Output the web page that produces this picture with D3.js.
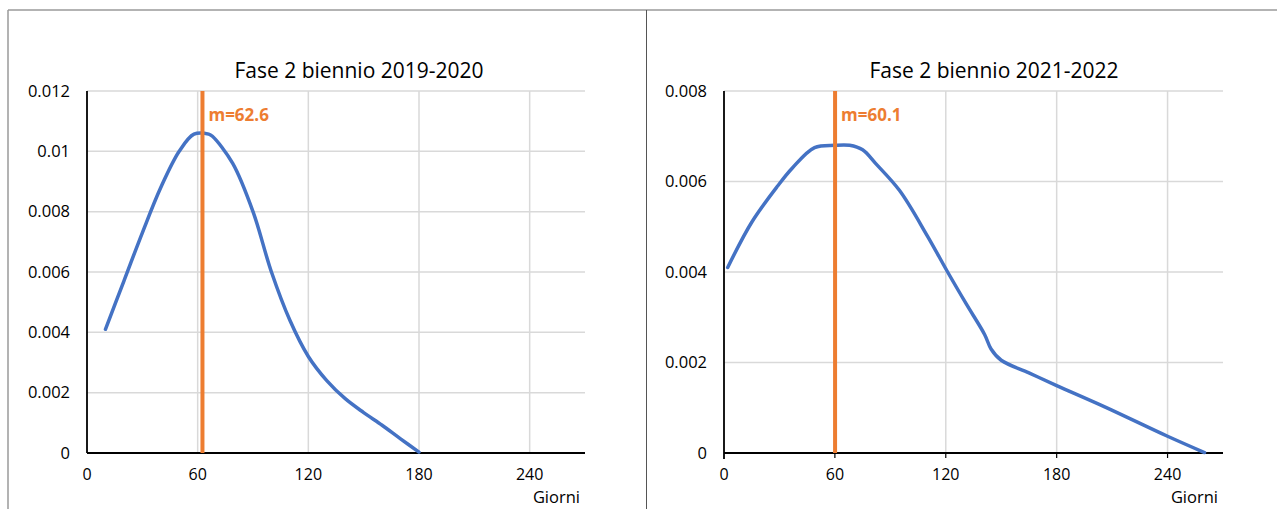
<!DOCTYPE html>
<html>
<head>
<meta charset="utf-8">
<script src="https://cdn.jsdelivr.net/npm/d3@7/dist/d3.min.js"></script>
<style>
html,body{margin:0;padding:0;background:#fff;}
svg{display:block;font-family:"Open Sans",sans-serif;}
</style>
</head>
<body>
<svg id="c" width="1277" height="509"></svg>
<script>
// ---- data ----
const titles = ["Fase 2 biennio 2019-2020", "Fase 2 biennio 2021-2022"];
const xTicks = [0, 60, 120, 180, 240];
const yTicksLeft = [0, 0.002, 0.004, 0.006, 0.008, 0.01, 0.012];
const yTicksRight = [0, 0.002, 0.004, 0.006, 0.008];
const yLabelsLeft = ["0", "0.002", "0.004", "0.006", "0.008", "0.01", "0.012"];
const yLabelsRight = ["0", "0.002", "0.004", "0.006", "0.008"];
const daysLeft =   [10, 20, 30, 40, 50, 58, 66, 68, 79, 90, 100, 110, 120, 130, 140, 150, 160, 170, 180];
const valuesLeft = [0.0041, 0.0057, 0.0073, 0.0088, 0.0100, 0.01057, 0.01057, 0.0105, 0.0096, 0.0080, 0.0060, 0.0044, 0.0032, 0.0024, 0.0018, 0.00134, 0.00092, 0.00047, 0.00003];
const daysRight =   [2, 15, 29, 37, 49, 60, 68, 75, 82, 95, 110, 121, 131, 141, 144.5, 150, 165, 180, 206, 240, 260];
const valuesRight = [0.0041, 0.0051, 0.0059, 0.0063, 0.00675, 0.0068, 0.0068, 0.0067, 0.0064, 0.0058, 0.0048, 0.0040, 0.0033, 0.00262, 0.0023, 0.00205, 0.00177, 0.00149, 0.00102, 0.00037, 0.00001];
const means = [62.6, 60.1];
const meanLabels = ["m=62.6", "m=60.1"];
const xMax = 270;
const yMaxes = [0.012, 0.008];
const xLabel = "Giorni";

const svg = d3.select("#c");
const BLUE = "#4472C4", ORANGE = "#ED7D31", GRID = "#d9d9d9";

// frame borders
svg.append("line").attr("x1", 8).attr("x2", 1277).attr("y1", 10).attr("y2", 10).attr("stroke", "#9a9a9a").attr("stroke-width", 1.5);
svg.append("line").attr("x1", 8).attr("x2", 8).attr("y1", 10).attr("y2", 509).attr("stroke", "#9a9a9a").attr("stroke-width", 1.5);
svg.append("line").attr("x1", 646.5).attr("x2", 646.5).attr("y1", 10).attr("y2", 509).attr("stroke", "#555").attr("stroke-width", 1);

const panels = [
  {x0: 87, x1: 585, title: titles[0], titleX: 359, days: daysLeft, vals: valuesLeft, yt: yTicksLeft, yl: yLabelsLeft, xTickMarks: false},
  {x0: 724, x1: 1223, title: titles[1], titleX: 994, days: daysRight, vals: valuesRight, yt: yTicksRight, yl: yLabelsRight, xTickMarks: true}
];
const yTop = 91, yBot = 453;

panels.forEach((p, i) => {
  const g = svg.append("g");
  const x = d3.scaleLinear().domain([0, xMax]).range([p.x0, p.x1]);
  const y = d3.scaleLinear().domain([0, yMaxes[i]]).range([yBot, yTop]);

  // horizontal grid
  g.append("g").selectAll("line").data(p.yt.slice(1)).join("line")
    .attr("x1", p.x0).attr("x2", p.x1)
    .attr("y1", d => y(d)).attr("y2", d => y(d))
    .attr("stroke", GRID).attr("stroke-width", 1.5);
  // vertical grid
  g.append("g").selectAll("line").data(xTicks.slice(1)).join("line")
    .attr("x1", d => x(d)).attr("x2", d => x(d))
    .attr("y1", yTop).attr("y2", yBot)
    .attr("stroke", GRID).attr("stroke-width", 1.5);

  // y labels
  g.append("g").selectAll("text").data(p.yt).join("text")
    .attr("x", p.x0 - 17).attr("y", d => y(d)).attr("dy", "0.35em")
    .attr("text-anchor", "end").attr("font-size", 16.5).attr("fill", "#000")
    .text((d, k) => p.yl[k]);
  // x labels
  g.append("g").selectAll("text").data(xTicks).join("text")
    .attr("x", d => x(d)).attr("y", 480)
    .attr("text-anchor", "middle").attr("font-size", 16).attr("fill", "#000")
    .text(d => d);
  // axis label
  g.append("text").attr("x", p.x1 - 5).attr("y", 503).attr("text-anchor", "end")
    .attr("font-size", 16.5).attr("fill", "#000").text(xLabel);

  // title
  g.append("text").attr("x", p.titleX).attr("y", 78).attr("text-anchor", "middle")
    .attr("font-size", 21).attr("fill", "#000").text(p.title);

  // axes
  g.append("line").attr("x1", p.x0).attr("x2", p.x0).attr("y1", yTop).attr("y2", p.xTickMarks ? yBot + 6 : yBot)
    .attr("stroke", "#000").attr("stroke-width", 1.8);
  g.append("line").attr("x1", p.x0).attr("x2", p.x1).attr("y1", yBot).attr("y2", yBot)
    .attr("stroke", "#000").attr("stroke-width", 1.8);
  if (p.xTickMarks) {
    g.append("g").selectAll("line").data(xTicks.slice(1)).join("line")
      .attr("x1", d => x(d)).attr("x2", d => x(d)).attr("y1", yBot).attr("y2", yBot + 5)
      .attr("stroke", "#000").attr("stroke-width", 1.2);
  }

  // curve
  const pts = p.days.map((d, k) => [d, p.vals[k]]);
  const line = d3.line().x(d => x(d[0])).y(d => y(d[1])).curve(d3.curveCatmullRom.alpha(0.5));
  g.append("path").datum(pts).attr("d", line).attr("fill", "none")
    .attr("stroke", BLUE).attr("stroke-width", 3.5).attr("stroke-linejoin", "round").attr("stroke-linecap", "round");

  // mean line
  g.append("line").attr("x1", x(means[i])).attr("x2", x(means[i])).attr("y1", yTop).attr("y2", yBot)
    .attr("stroke", ORANGE).attr("stroke-width", 4);
  g.append("text").attr("x", x(means[i]) + 6).attr("y", 121).attr("font-size", 17)
    .attr("font-weight", "bold").attr("fill", ORANGE).text(meanLabels[i]);
});
</script>
</body>
</html>
